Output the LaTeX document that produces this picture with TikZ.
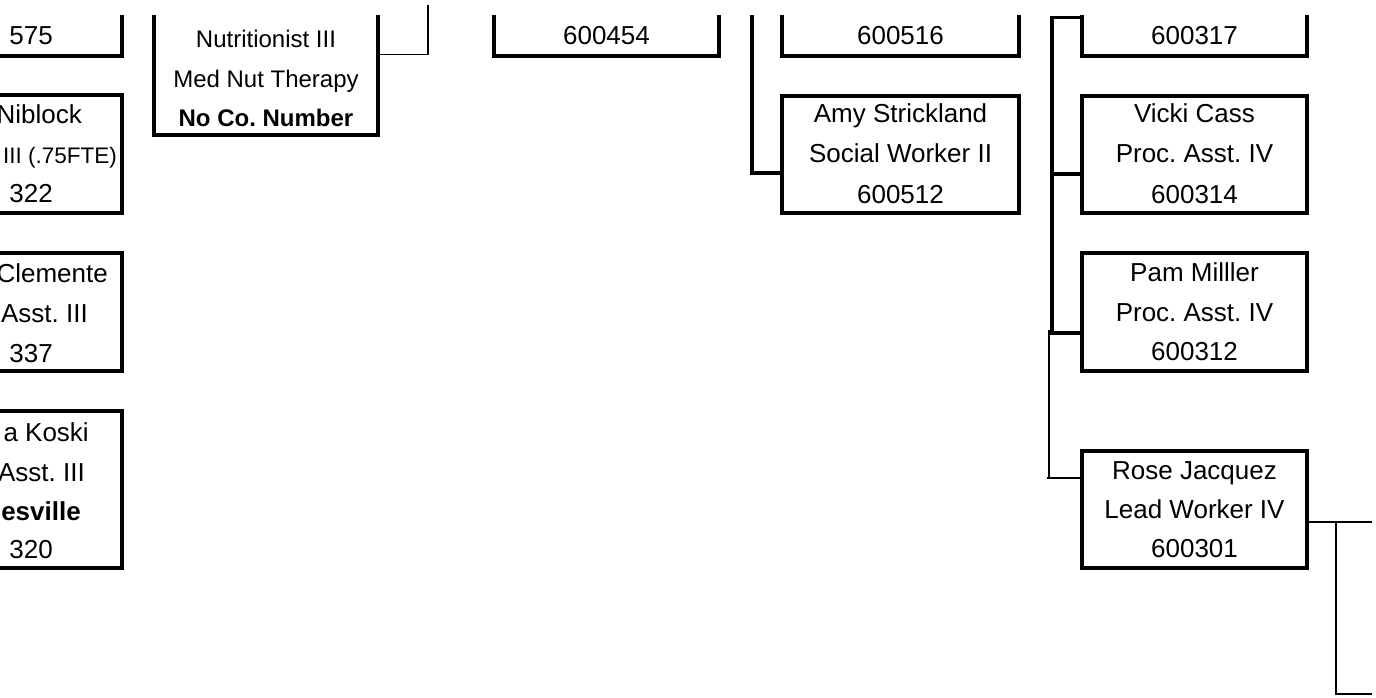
\documentclass[tikz,border=0pt]{standalone}
\usepackage{fontspec}
\setmainfont{Liberation Sans}
\frenchspacing
\begin{document}
\begin{tikzpicture}[x=1pt,y=-1pt,
  box/.style={draw,line width=3.2pt,inner sep=0pt,minimum width=225pt,minimum height=117pt},
  txt/.style={inner sep=0pt,anchor=base,font=\fontsize{26pt}{30pt}\selectfont},
  txtR/.style={txt,anchor=base east},
  small/.style={inner sep=0pt,anchor=base,font=\fontsize{24pt}{28pt}\selectfont},
  conn/.style={line width=3.2pt},
  thinln/.style={line width=1.7pt}]
\useasboundingbox (0,0) rectangle (1376,698);
\begin{scope}
\clip (-200,16) rectangle (1600,900);
% left column
\node[box] (l1) at (9.5,-2.5) {};
\node[box,minimum height=118pt] (l2) at (9.5,154) {};
\node[box,minimum height=118pt] (l3) at (9.5,312) {};
\node[box,minimum height=157pt] (l4) at (9.5,489.5) {};
\node[txtR] (l1a) at (53,45) {575};
\node[txtR] (l2a) at (82,124) {Niblock};
\node[txtR,font=\fontsize{22.5pt}{26pt}\selectfont] (l2b) at (117,164) {III (.75FTE)};
\node[txtR] (l2c) at (53,202) {322};
\node[txtR] (l3a) at (108,282) {Clemente};
\node[txtR] (l3b) at (88,322) {Asst. III};
\node[txtR] (l3c) at (53,362) {337};
\node[txtR] (l4a) at (89,441) {a Koski};
\node[txtR] (l4b) at (85,481) {Asst. III};
\node[txtR,font=\fontsize{26pt}{30pt}\selectfont\bfseries] (l4c) at (81,520) {esville};
\node[txtR] (l4d) at (53,558) {320};
% nutritionist
\node[box,minimum width=224pt,minimum height=161pt] (nut) at (266,54.5) {};
\node[small] (n1) at (266,48) {Nutritionist III};
\node[small] (n2) at (266,88) {Med Nut Therapy};
\node[small,font=\fontsize{24pt}{28pt}\selectfont\bfseries] (n3) at (266,127) {No Co. Number};
% middle
\node[box] (m1) at (606.5,-2.5) {};
\node[txt] (m1a) at (606.5,45) {600454};
\node[box,minimum width=237pt] (m2) at (900.5,-2.5) {};
\node[txt] (m2a) at (900.5,45) {600516};
\node[box,minimum width=237pt] (amy) at (900.5,154.5) {};
\node[txt] (amy1) at (900.5,123) {Amy Strickland};
\node[txt] (amy2) at (900.5,163) {Social Worker II};
\node[txt] (amy3) at (900.5,203) {600512};
\coordinate (jM) at (752,0);
\coordinate (jM2) at (752,173);
\draw[conn] (jM) -- (jM2) -- (jM2 -| amy.west);
% right
\node[box] (r1) at (1194.5,-2.5) {};
\node[txt] (r1a) at (1194.5,45) {600317};
\node[box] (vicki) at (1194.5,154.5) {};
\node[txt] (v1) at (1194.5,123) {Vicki Cass};
\node[txt] (v2) at (1194.5,163) {Proc. Asst. IV};
\node[txt] (v3) at (1194.5,203) {600314};
\node[box,minimum height=118pt] (pam) at (1194.5,312) {};
\node[txt] (p1) at (1194.5,281) {Pam Milller};
\node[txt] (p2) at (1194.5,321) {Proc. Asst. IV};
\node[txt] (p3) at (1194.5,360) {600312};
\node[box] (rose) at (1194.5,509.5) {};
\node[txt] (ro1) at (1194.5,479) {Rose Jacquez};
\node[txt] (ro2) at (1194.5,518) {Lead Worker IV};
\node[txt] (ro3) at (1194.5,557) {600301};
\coordinate (jA) at (1052,17.5);
\coordinate (jV) at (1052,174);
\coordinate (jB) at (1052,333);
\draw[conn] (jA -| r1.west) -- (jA) -- (jB) -- (jB -| pam.west);
\draw[conn] (jV) -- (jV -| vicki.west);
\end{scope}
\coordinate (jC) at (1049,330);
\coordinate (jD) at (1049,478);
\coordinate (jD0) at (1047,478);
\draw[thinln] (jC) -- (jD);
\draw[thinln] (jD0) -- (jD0 -| rose.west);
\coordinate (jE) at (1336,522);
\coordinate (jF) at (1336,694);
\coordinate (eR) at (1372,522);
\coordinate (eB) at (1372,694);
\draw[thinln] (rose.east |- jE) -- (eR);
\draw[thinln] (jE) -- (jF) -- (eB);
\coordinate (jN) at (428,54.5);
\coordinate (jN2) at (428,5);
\draw[thinln] (nut.east) -- (jN) -- (jN2);
\end{tikzpicture}
\end{document}
